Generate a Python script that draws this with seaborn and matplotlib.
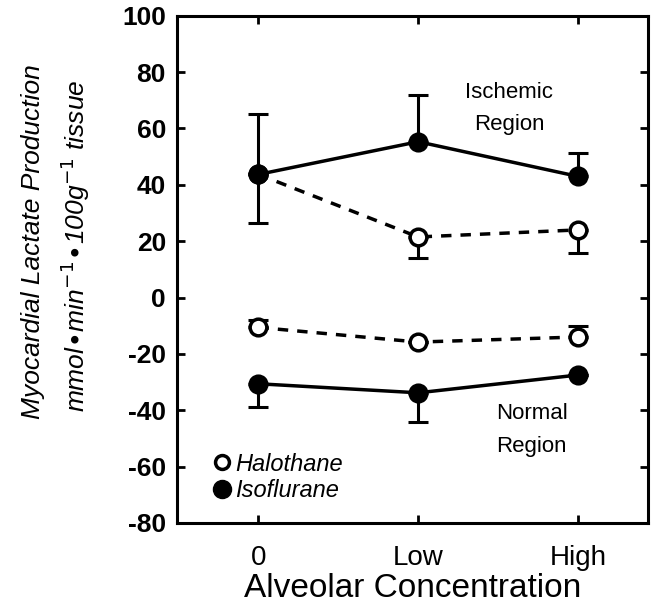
import numpy as np
import pandas as pd
import matplotlib
matplotlib.use("Agg")
import matplotlib.pyplot as plt
import seaborn as sns
from matplotlib.lines import Line2D

# x categories
conc_labels = ["0", "Low", "High"]
conc_pos = [0, 1, 2]

# ischemic region
iso_isch = [43.7, 55.3, 43.0]
iso_isch_lo = [17.3, 0, 0]
iso_isch_hi = [21.3, 16.5, 8.4]
hal_isch = [43.7, 21.5, 24.0]
hal_isch_lo = [0, 7.5, 8.2]
hal_isch_hi = [0, 0, 0]

# normal region
hal_norm = [-10.6, -15.8, -14.0]
hal_norm_lo = [0, 0, 0]
hal_norm_hi = [2.6, 0, 4.0]
iso_norm = [-30.6, -33.8, -27.5]
iso_norm_lo = [8.4, 10.2, 0]
iso_norm_hi = [0, 0, 0]

sns.set_theme(style="ticks")
plt.rcParams['font.family'] = ['Liberation Sans', 'DejaVu Sans']
for key in ["text.color", "axes.labelcolor", "xtick.color", "ytick.color"]:
    plt.rcParams[key] = "black"

fig = plt.figure(figsize=(6.58, 6.06), dpi=100)
ax = fig.add_axes([0.269, 0.137, 0.716, 0.837])

series = [
    (hal_isch, hal_isch_lo, hal_isch_hi, "Halothane", 2),
    (hal_norm, hal_norm_lo, hal_norm_hi, "Halothane", 2),
    (iso_isch, iso_isch_lo, iso_isch_hi, "Isoflurane", 3),
    (iso_norm, iso_norm_lo, iso_norm_hi, "Isoflurane", 3),
]

for vals, lo, hi, drug, z in series:
    df = pd.DataFrame({"conc": conc_pos, "value": vals})
    filled = drug == "Isoflurane"
    ax.errorbar(df["conc"], df["value"], yerr=[lo, hi], fmt="none",
                ecolor="black", elinewidth=2.2, capsize=7, capthick=2.2, zorder=z - 0.5)
    sns.lineplot(data=df, x="conc", y="value", ax=ax, color="black",
                 linewidth=2.5, linestyle="-" if filled else (0, (3, 2.6)),
                 marker="o", markersize=12,
                 markerfacecolor="black" if filled else "white",
                 markeredgecolor="black", markeredgewidth=2.5, zorder=z)

ax.set_xlim(-0.51, 2.44)
ax.set_ylim(-80, 100)
ax.set_xticks(conc_pos)
ax.set_xticklabels(conc_labels, fontsize=20)
ax.set_yticks(np.arange(-80, 101, 20))
ax.set_yticklabels([str(v) for v in range(-80, 101, 20)], fontsize=19, fontweight="bold")
ax.tick_params(direction="in", length=6, width=2, top=True, right=True, pad=8)
ax.tick_params(axis="x", pad=16)
for sp in ax.spines.values():
    sp.set_linewidth(2.2)
    sp.set_color("black")

ax.set_xlabel("Alveolar Concentration", fontsize=24, labelpad=1)
ax.set_ylabel("")

fig.text(0.05, 0.602, "Myocardial Lactate Production", rotation=90,
         fontsize=19, style="italic", ha="center", va="center")
fig.text(0.115, 0.595, r"mmol$\bullet$min$^{-1}$$\bullet$100g$^{-1}$ tissue", rotation=90,
         fontsize=19, style="italic", ha="center", va="center")

ax.text(1.57, 67, "Ischemic\nRegion", fontsize=16, ha="center", va="center", linespacing=1.7)
ax.text(1.71, -47, "Normal\nRegion", fontsize=16, ha="center", va="center", linespacing=1.7)

handles = [
    Line2D([], [], marker="o", linestyle="none", markersize=10, markerfacecolor="white",
           markeredgecolor="black", markeredgewidth=2.5),
    Line2D([], [], marker="o", linestyle="none", markersize=13, markerfacecolor="black",
           markeredgecolor="black"),
]
leg = ax.legend(handles, ["Halothane", "Isoflurane"], loc="center left",
                bbox_to_anchor=(0.07, 0.09), frameon=False, handletextpad=0.05,
                handlelength=1.0, labelspacing=0.15, borderaxespad=0, borderpad=0,
                prop={"size": 17, "style": "italic"})

fig.savefig("out.png", dpi=100)
